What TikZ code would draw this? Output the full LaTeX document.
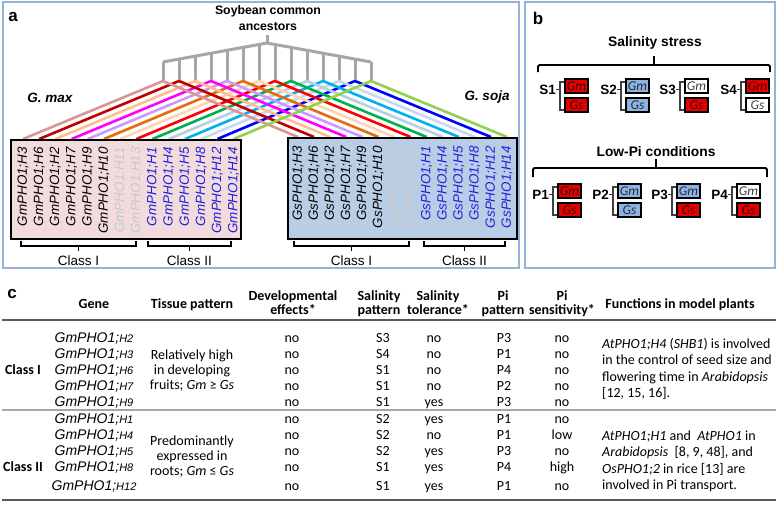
\documentclass[tikz,border=0pt]{standalone}
\usepackage{fontspec}
\setmainfont{Carlito}
\newfontfamily\arial{Liberation Sans}
\usetikzlibrary{calc}

\definecolor{frameblue}{HTML}{95B3D7}
\definecolor{treegray}{HTML}{A6A6A6}
\definecolor{gmpink}{HTML}{F2DCDB}
\definecolor{gsblue}{HTML}{B9CDE5}
\definecolor{genegray}{HTML}{C8C8C8}
\definecolor{geneblue}{HTML}{1F1FE0}
\definecolor{boxred}{HTML}{E50000}
\definecolor{boxblue}{HTML}{8DB3E2}
\definecolor{rulegray}{HTML}{595959}
\definecolor{midgray}{HTML}{A6A6A6}
\definecolor{brkgray}{HTML}{404040}
\definecolor{lc0}{HTML}{D99694}
\definecolor{lc1}{HTML}{C00000}
\definecolor{lc2}{HTML}{FAC090}
\definecolor{lc3}{HTML}{FF00FF}
\definecolor{lc4}{HTML}{CC99FF}
\definecolor{lc5}{HTML}{E46C0A}
\definecolor{lc6}{HTML}{FCD5B5}
\definecolor{lc7}{HTML}{FF0000}
\definecolor{lc8}{HTML}{00B050}
\definecolor{lc9}{HTML}{B9CDE5}
\definecolor{lc10}{HTML}{00B0F0}
\definecolor{lc11}{HTML}{C6D9F1}
\definecolor{lc12}{HTML}{0000FF}
\definecolor{lc13}{HTML}{92D050}

\newcommand\pairbox[6]{%
  \node[sbox, fill=#4, text=#4!25!black] (#1m) at (#2,#3) {\textit{Gm}};
  \node[sbox, fill=#5, text=#5!25!black] (#1s) at (#2,#3+19) {\textit{Gs}};
  \node[slabel] (#1l) at (#2-8,#3+11.5) {#6};
  \draw[brk] ($(#1m.north west)+(0,4)$) -- ++(-4,0) -- ($(#1s.south west)+(-4,-3)$) -- ++(4,0);
  \draw[brk] (#1l.east) -- ++(4,0);
}

\begin{document}
\begin{tikzpicture}[x=1pt,y=-1pt,
  panel/.style={draw=frameblue,line width=1.5pt},
  plabel/.style={font=\arial\bfseries\fontsize{17}{17}\selectfont,inner sep=0},
  tree/.style={draw=treegray,line width=3pt},
  link/.style={line width=2.6pt},
  genebox/.style={draw=black,line width=2pt,anchor=north west,inner sep=0},
  gname/.style={font=\arial\itshape\fontsize{13.4}{14}\selectfont,rotate=90,anchor=east,inner sep=0},
  classbr/.style={draw=black,line width=1.3pt},
  clabel/.style={font=\arial\fontsize{13.5}{14}\selectfont,inner sep=0},
  species/.style={font=\arial\bfseries\itshape\fontsize{13.5}{14}\selectfont,inner sep=0},
  btitle/.style={font=\arial\bfseries\fontsize{13.8}{14}\selectfont,inner sep=0},
  brace/.style={draw=black,line width=1.8pt,rounded corners=1.5pt},
  sbox/.style={draw=black,line width=2pt,anchor=north west,minimum width=23,minimum height=14,inner sep=0,font=\itshape\fontsize{13.5}{13.5}\selectfont},
  slabel/.style={font=\arial\bfseries\fontsize{13.5}{14}\selectfont,inner sep=0,anchor=east},
  brk/.style={draw=brkgray,line width=1.1pt},
  hd/.style={font=\bfseries\fontsize{14}{14}\selectfont,inner sep=0,anchor=base},
  cell/.style={font=\fontsize{14}{14}\selectfont,inner sep=0,anchor=base},
  fun/.style={font=\fontsize{14}{14}\selectfont,inner sep=0,anchor=base west},
  gene/.style={font=\arial\itshape\fontsize{14}{14}\selectfont,inner sep=0,anchor=base},
  rowclass/.style={font=\bfseries\fontsize{14}{14}\selectfont,inner sep=0,anchor=base}
]
\useasboundingbox (0,0) rectangle (778,509);
\fill[white] (0,0) rectangle (778,509);

% ---------------- panel frames
\draw[panel] (3,2) rectangle (519,268);
\draw[panel] (525,2) rectangle (775,268);

% ---------------- panel a
\node[plabel] (la) at (13,17) {a};
\node[font=\arial\bfseries\fontsize{12.3}{15.5}\selectfont,align=center,inner sep=0] (anc) at (268,18) {Soybean common\\ancestors};
\node[species] (gmax) at (50,98) {G. max};
\node[species] (gsoja) at (487,97) {G. soja};

\foreach \i in {0,...,13} {
  \coordinate (anc\i) at ({163+16*\i},81);
  \coordinate (gmt\i) at ({23+16.2*\i},139);
  \coordinate (gst\i) at ({298+16.08*\i},137);
}
% ancestor tree
\draw[tree] (267,35) -- (267,43);
\draw[tree,line join=round] (163,62) -- (267,43) -- (371,62);
\foreach \i in {0,...,13}
  \draw[tree] (anc\i) -- ({163+16*\i},{43+abs(163+16*\i-267)*19/104});

% connectors
\foreach \i in {0,...,12}
  \draw[link,color=lc\i] (anc\i) -- (gmt\i);
\foreach \i in {0,...,13}
  \draw[link,color=lc\i] (anc\i) -- (gst\i);
\draw[link,color=lc13] (anc13) -- (gmt13);

% gene boxes
\node[genebox,fill=gmpink,minimum width=230,minimum height=99] (gmbox) at (10,139) {};
\node[genebox,fill=gsblue,minimum width=229,minimum height=101] (gsbox) at (287,137) {};

\foreach \g/\col [count=\i from 0] in {H3/black,H6/black,H2/black,H7/black,H9/black,H10/black,H11/genegray,H13/genegray,H1/geneblue,H4/geneblue,H5/geneblue,H8/geneblue,H12/geneblue,H14/geneblue} {
  \node[gname,text=\col] (gmn\i) at ({23+16.2*\i},147) {GmPHO1;\g};
  \node[gname,text=\col] (gsn\i) at ({298+16.08*\i},146) {GsPHO1;\g};
}

% class brackets
\draw[classbr] (21,241) -- (21,246) -- (136,246) -- (136,241);
\draw[classbr] (78.5,246) -- (78.5,251);
\node[clabel] (gmc1) at (78.5,261) {Class I};
\draw[classbr] (148,241) -- (148,246) -- (231,246) -- (231,241);
\draw[classbr] (189.5,246) -- (189.5,251);
\node[clabel] (gmc2) at (189.5,261) {Class II};
\draw[classbr] (294,241) -- (294,246) -- (409,246) -- (409,241);
\draw[classbr] (351.5,246) -- (351.5,251);
\node[clabel] (gsc1) at (351.5,261) {Class I};
\draw[classbr] (424,241) -- (424,246) -- (505,246) -- (505,241);
\draw[classbr] (464.5,246) -- (464.5,251);
\node[clabel] (gsc2) at (464.5,261) {Class II};

% ---------------- panel b
\node[plabel] (lb) at (538,18) {b};
\node[btitle] (sal) at (655,43) {Salinity stress};
\draw[brace] (538,72) -- (538,65) -- (770,65) -- (770,72);
\draw[brace] (654,65) -- (654,56);
\node[btitle] (lowpi) at (656,152) {Low-Pi conditions};
\draw[brace] (533,177) -- (533,168) -- (767,168) -- (767,177);
\draw[brace] (656,168) -- (656,159);

\pairbox{s1}{564}{78}{boxred}{boxred}{S1}
\pairbox{s2}{625}{78}{boxblue}{boxblue}{S2}
\pairbox{s3}{684}{78}{white}{boxred}{S3}
\pairbox{s4}{745}{78}{boxred}{white}{S4}
\pairbox{p1}{557}{183}{boxred}{boxred}{P1}
\pairbox{p2}{617}{183}{boxblue}{boxblue}{P2}
\pairbox{p3}{676}{183}{boxblue}{boxred}{P3}
\pairbox{p4}{736}{183}{white}{boxred}{P4}

% ---------------- panel c
\node[plabel] (lcc) at (12,294) {c};
\node[hd] (hgene) at (94,308) {Gene};
\node[hd] (htis) at (192,308) {Tissue pattern};
\node[hd] (hdev1) at (293,300) {Developmental};
\node[hd] (hdev2) at (293,314) {effects*};
\node[hd] (hsp1) at (379,300) {Salinity};
\node[hd] (hsp2) at (379,314) {pattern};
\node[hd] (hst1) at (438,300) {Salinity};
\node[hd] (hst2) at (438,314) {tolerance*};
\node[hd] (hpp1) at (503,300) {Pi};
\node[hd] (hpp2) at (503,314) {pattern};
\node[hd] (hps1) at (562,300) {Pi};
\node[hd] (hps2) at (562,314) {sensitivity*};
\node[hd] (hfun) at (680,308) {Functions in model plants};

\draw[rulegray,line width=2.5pt] (2,320) -- (776,320);
\draw[midgray,line width=2pt] (2,409.5) -- (776,409.5);
\draw[rulegray,line width=2.5pt] (2,500) -- (776,500);

\foreach \ry/\rg/\ra/\rb/\rc/\rd/\re in {337/H2/no/S3/no/P3/no,353/H3/no/S4/no/P1/no,369/H6/no/S1/no/P4/no,385/H7/no/S1/no/P2/no,401/H9/no/S1/yes/P3/no,418/H1/no/S2/yes/P1/no,434.5/H4/no/S2/no/P1/low,450/H5/no/S2/yes/P3/no,466/H8/no/S1/yes/P4/high,485/H12/no/S1/yes/P1/no} {
  \node[gene] (g\rg) at (94,\ry+5) {GmPHO1;{\fontsize{11}{12}\selectfont\rg}};
  \node[cell] (dev\rg) at (292,\ry+5) {\ra};
  \node[cell] (sp\rg) at (383,\ry+5) {\rb};
  \node[cell] (st\rg) at (434,\ry+5) {\rc};
  \node[cell] (pp\rg) at (504,\ry+5) {\rd};
  \node[cell] (ps\rg) at (562,\ry+5) {\re};
}
\node[rowclass] (cI) at (23,374) {Class I};
\node[rowclass] (cII) at (23,471) {Class II};

\node[cell] (t1) at (192,359) {Relatively high};
\node[cell] (t2) at (192,374) {in developing};
\node[cell] (t3) at (192,389) {fruits; \textit{Gm} ≥ \textit{Gs}};
\node[cell] (t4) at (192,445) {Predominantly};
\node[cell] (t5) at (192,460) {expressed in};
\node[cell] (t6) at (192,475) {roots; \textit{Gm} ≤ \textit{Gs}};

\node[fun] (f1) at (602,348) {\textit{AtPHO1;H4} (\textit{SHB1}) is involved};
\node[fun] (f2) at (602,364.5) {in the control of seed size and};
\node[fun] (f3) at (602,381) {flowering time in \textit{Arabidopsis}};
\node[fun] (f4) at (602,397.5) {[12, 15, 16].};
\node[fun] (f5) at (602,440) {\textit{AtPHO1;H1} and\ \ \textit{AtPHO1} in};
\node[fun] (f6) at (602,456.5) {\textit{Arabidopsis}\ \ [8, 9, 48], and};
\node[fun] (f7) at (602,473) {\textit{OsPHO1;2} in rice [13] are};
\node[fun] (f8) at (602,489.5) {involved in Pi transport.};
\end{tikzpicture}
\end{document}
